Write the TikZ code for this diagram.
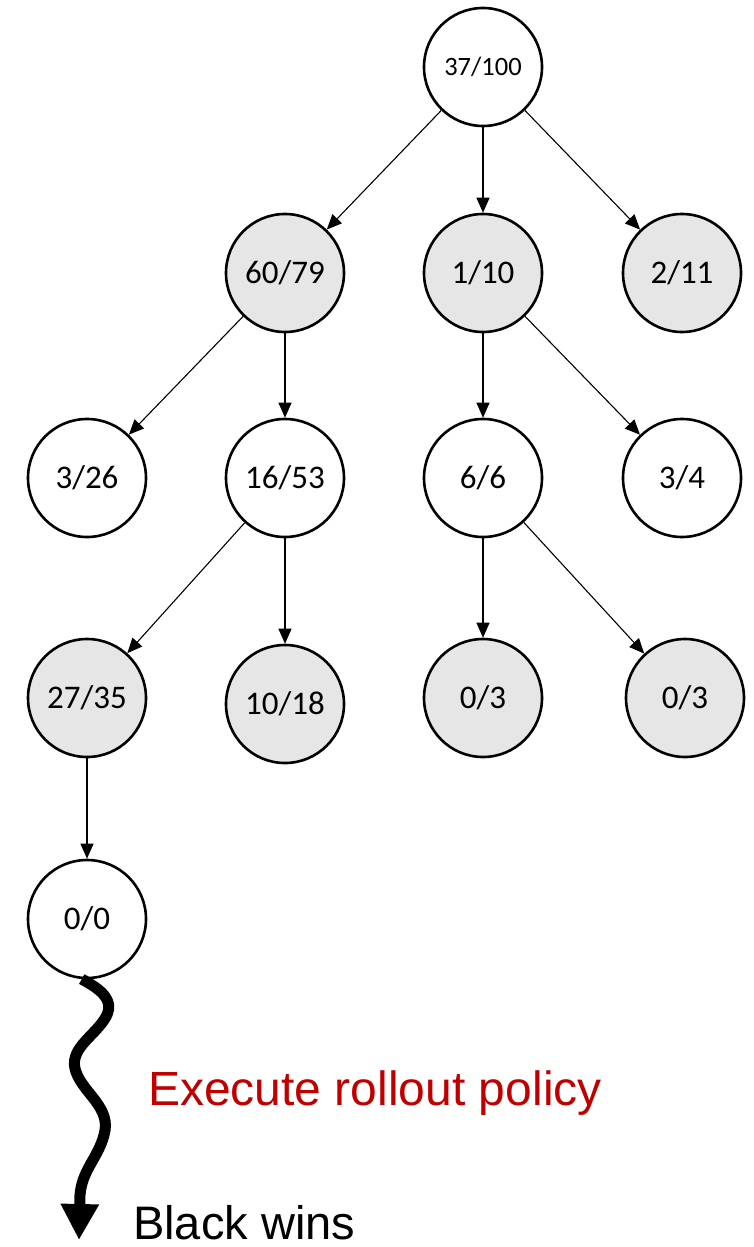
\documentclass[tikz,border=0pt]{standalone}
\usepackage{fontspec}
\setmainfont{Carlito}
\newfontfamily\arialfont{Liberation Sans}
\usetikzlibrary{arrows.meta}
\definecolor{nodegray}{HTML}{E6E6E6}
\definecolor{policyred}{HTML}{C00000}
\tikzset{
  tnode/.style={circle, draw=black, line width=2.6pt, minimum size=118pt, inner sep=0pt, fill=white, font=\fontsize{33}{39}\selectfont},
  gnode/.style={tnode, fill=nodegray},
  edge/.style={line width=1.1pt, -{Triangle[length=15pt,width=13pt]}},
}
\begin{document}
\begin{tikzpicture}[x=1pt,y=-1pt]
\useasboundingbox (0,0) rectangle (754,1247);
\node[tnode, font=\fontsize{26.5}{31}\selectfont] (root) at (483,67) {37/100};
\node[gnode] (a) at (285,273) {60/79};
\node[gnode] (b) at (483,273) {1/10};
\node[gnode] (c) at (682,273) {2/11};
\node[tnode] (a1) at (87,478) {3/26};
\node[tnode] (a2) at (285,478) {16/53};
\node[tnode] (b1) at (483,478) {6/6};
\node[tnode] (b2) at (682,478) {3/4};
\node[gnode] (a21) at (87,698) {27/35};
\node[gnode] (a22) at (285,704) {10/18};
\node[gnode] (b11) at (483,698) {0/3};
\node[gnode] (b12) at (685,698) {0/3};
\node[tnode] (z) at (87,919) {0/0};
\draw[edge] (root) -- (a);
\draw[edge] (root) -- (b);
\draw[edge] (root) -- (c);
\draw[edge] (a) -- (a1);
\draw[edge] (a) -- (a2);
\draw[edge] (b) -- (b1);
\draw[edge] (b) -- (b2);
\draw[edge] (a2) -- (a21);
\draw[edge] (a2) -- (a22);
\draw[edge] (b1) -- (b11);
\draw[edge] (b1) -- (b12);
\draw[edge] (a21) -- (z);
\coordinate (ws) at (z.-95);
\coordinate (we) at (79,1240);
\draw[line width=11pt, -{Triangle[length=36pt,width=36pt]}]
  (ws) .. controls (98,988) and (118,1000) .. (104,1020)
       .. controls (92,1038) and (68,1050) .. (76,1072)
       .. controls (84,1094) and (112,1108) .. (104,1135)
       .. controls (98,1158) and (82,1170) .. (80,1195)
       -- (we);
\node[anchor=base west, text=policyred, font=\arialfont\fontsize{48}{57}\selectfont, inner sep=0pt] (pol) at (148,1105) {Execute rollout policy};
\node[anchor=base west, font=\arialfont\fontsize{47}{56}\selectfont, inner sep=0pt] (win) at (133,1239) {Black wins};
\end{tikzpicture}
\end{document}
